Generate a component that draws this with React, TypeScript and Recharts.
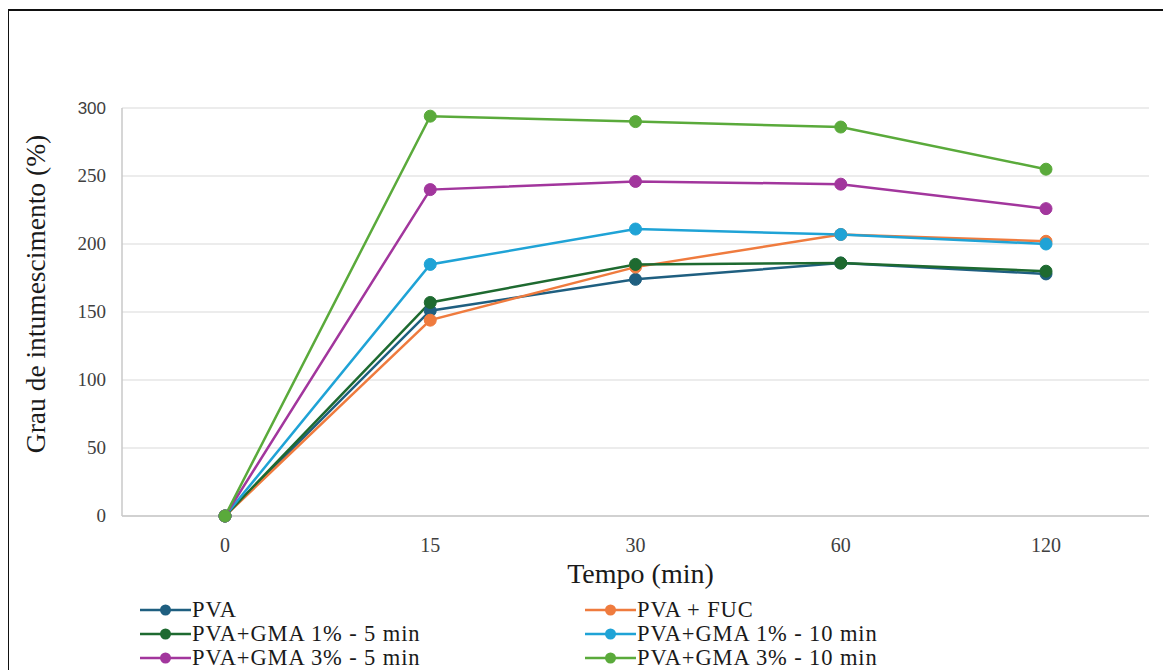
import React from 'react';
import { LineChart, Line, XAxis, YAxis, CartesianGrid } from 'recharts';

const categories = ['0', '15', '30', '60', '120'];
const pva = [0, 151, 174, 186, 178];
const pvaFuc = [0, 144, 183, 207, 202];
const gma1_5 = [0, 157, 185, 186, 180];
const gma1_10 = [0, 185, 211, 207, 200];
const gma3_5 = [0, 240, 246, 244, 226];
const gma3_10 = [0, 294, 290, 286, 255];
const yTicks = [0, 50, 100, 150, 200, 250, 300];

const seriesNames = [
  'PVA',
  'PVA + FUC',
  'PVA+GMA 1% - 5 min',
  'PVA+GMA 1% - 10 min',
  'PVA+GMA 3% - 5 min',
  'PVA+GMA 3% - 10 min',
];
const seriesValues = [pva, pvaFuc, gma1_5, gma1_10, gma3_5, gma3_10];
const seriesColors = ['#1f5f80', '#ef7b3e', '#1e6a30', '#1fa3d6', '#a2369d', '#5aaa3b'];

const data = categories.map((c, i) => {
  const row: Record<string, string | number> = { tempo: c };
  seriesNames.forEach((n, s) => (row[n] = seriesValues[s][i]));
  return row;
});

const SERIF = '"Liberation Serif", "Times New Roman", serif';

function YTick(props: any) {
  const { x, y, payload } = props;
  const top = payload.value === 300;
  return (
    <text
      x={x}
      y={y}
      dy={6}
      textAnchor="end"
      fill="#404040"
      fontFamily={top ? '"Liberation Sans", Arial, sans-serif' : SERIF}
      fontSize={top ? 17 : 19}
    >
      {payload.value}
    </text>
  );
}

function LegendBlock() {
  return (
    <div
      style={{
        position: 'absolute',
        left: 132,
        top: 590,
        display: 'grid',
        gridTemplateColumns: '445px 420px',
        fontFamily: SERIF,
        fontSize: 22.5,
        color: '#1a1a1a',
        lineHeight: '24px',
      }}
    >
      {seriesNames.map((n, i) => (
        <div key={n} style={{ display: 'flex', alignItems: 'center', whiteSpace: 'nowrap', height: 24 }}>
          <svg width={51} height={14} style={{ marginRight: 1 }}>
            <line x1={0} y1={7} x2={51} y2={7} stroke={seriesColors[i]} strokeWidth={2.5} />
            <circle cx={25.5} cy={7} r={5.5} fill={seriesColors[i]} />
          </svg>
          <span style={{ letterSpacing: 0.9 }}>{n}</span>
        </div>
      ))}
    </div>
  );
}

export default function App() {
  return (
    <div style={{ position: 'relative', width: 1163, height: 662, overflow: 'hidden' }}>
      <div
        style={{
          position: 'absolute',
          left: -2,
          top: 1,
          width: 1156,
          height: 700,
          borderLeft: '3px solid #111',
          borderTop: '2px solid #111',
          borderRight: '1px solid #e2e2e2',
        }}
      />
      <div style={{ position: 'absolute', left: 0, top: 0 }}>
        <LineChart width={1163} height={662} data={data} margin={{ top: 100, right: 22, bottom: 124, left: 44 }}>
          <CartesianGrid vertical={false} stroke="#d9d9d9" strokeWidth={1.2} />
          <XAxis
            dataKey="tempo"
            padding={{ left: 103, right: 103 }}
            axisLine={{ stroke: '#c8c8c8', strokeWidth: 1.5 }}
            tickLine={false}
            tickMargin={16}
            tick={{ fill: '#404040', fontFamily: SERIF, fontSize: 20 }}
            label={{
              content: (p: any) => (
                <text
                  x={p.viewBox.x + p.viewBox.width / 2 + 5}
                  y={p.viewBox.y + 67}
                  textAnchor="middle"
                  fill="#1a1a1a"
                  fontFamily={SERIF}
                  fontSize={28}
                >
                  Tempo (min)
                </text>
              ),
            }}
          />
          <YAxis
            width={70}
            domain={[0, 300]}
            ticks={yTicks}
            interval={0}
            axisLine={{ stroke: '#c8c8c8', strokeWidth: 1.5 }}
            tickLine={false}
            tickSize={6}
            tickMargin={10}
            tick={<YTick />}
            label={{
              content: (p: any) => {
                const cx = p.viewBox.x - 17;
                const cy = p.viewBox.y + p.viewBox.height / 2 - 18;
                return (
                  <text
                    x={cx}
                    y={cy}
                    transform={`rotate(-90 ${cx} ${cy})`}
                    textAnchor="middle"
                    dominantBaseline="central"
                    fill="#1a1a1a"
                    fontFamily={SERIF}
                    fontSize={27.5}
                  >
                    Grau de intumescimento (%)
                  </text>
                );
              },
            }}
          />
          {seriesNames.map((n, i) => (
            <Line
              key={n}
              dataKey={n}
              stroke={seriesColors[i]}
              strokeWidth={2.5}
              dot={{ r: 6, fill: seriesColors[i], stroke: seriesColors[i], strokeWidth: 1 }}
              isAnimationActive={false}
            />
          ))}
        </LineChart>
      </div>
      <LegendBlock />
    </div>
  );
}
